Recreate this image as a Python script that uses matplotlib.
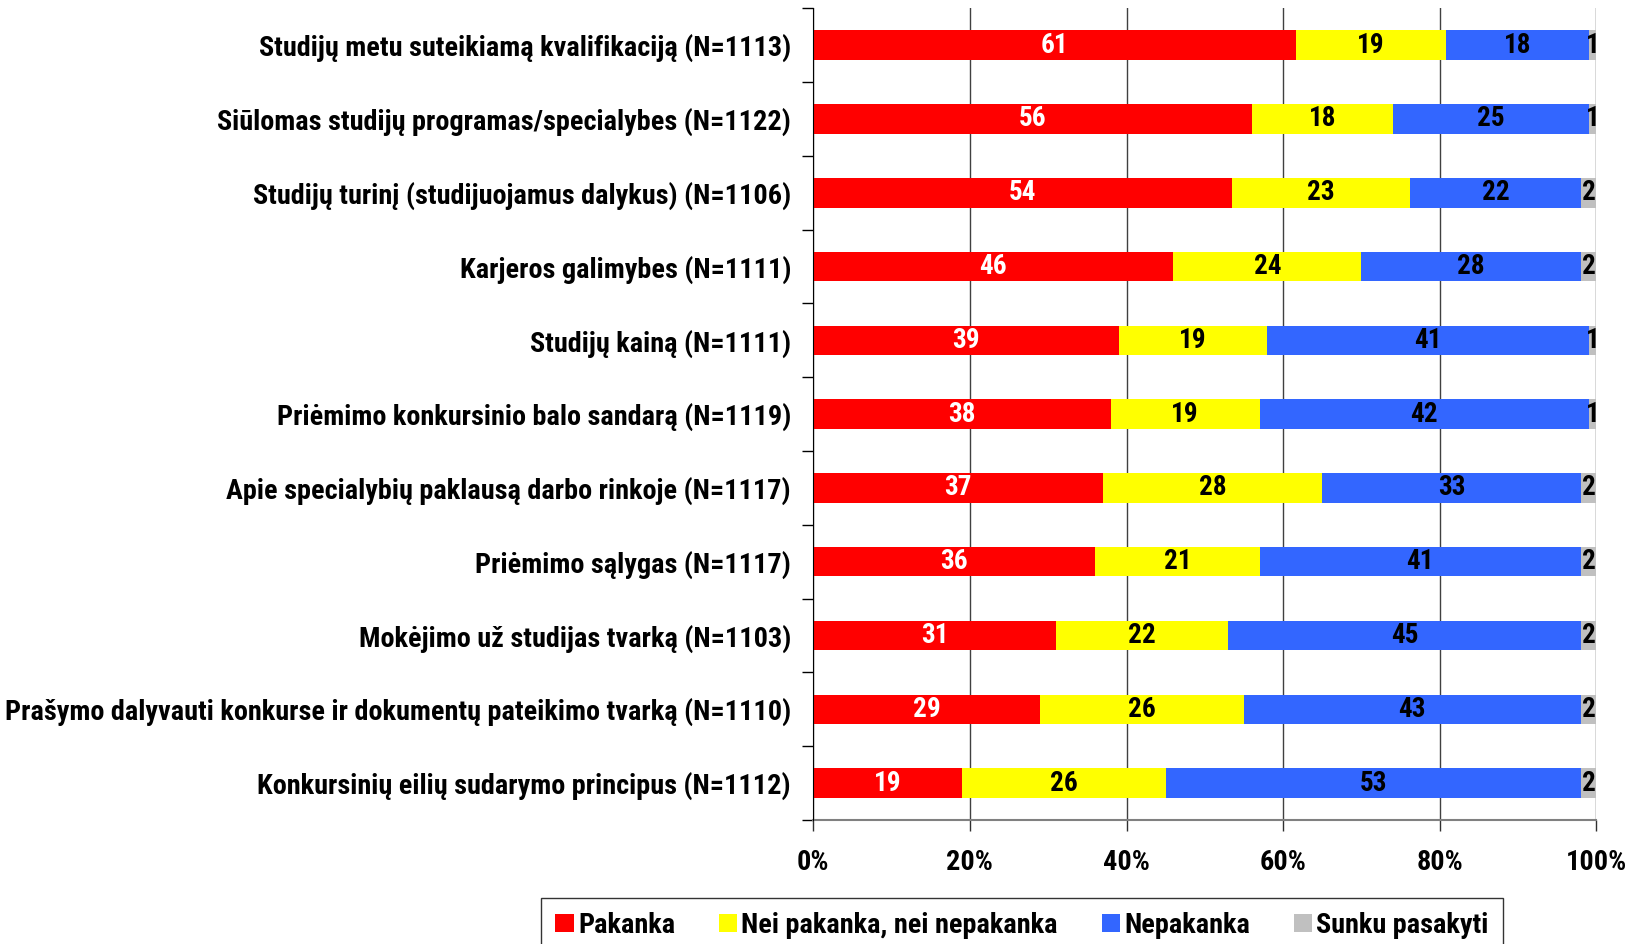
import numpy as np
import matplotlib
matplotlib.use("Agg")
import matplotlib.pyplot as plt

plt.rcParams['font.family'] = ['Roboto Condensed', 'DejaVu Sans']
plt.rcParams['font.weight'] = 'bold'

# Data (percent)
categories = [
    "Studijų metu suteikiamą kvalifikaciją (N=1113)",
    "Siūlomas studijų programas/specialybes (N=1122)",
    "Studijų turinį (studijuojamus dalykus) (N=1106)",
    "Karjeros galimybes (N=1111)",
    "Studijų kainą (N=1111)",
    "Priėmimo konkursinio balo sandarą (N=1119)",
    "Apie specialybių paklausą darbo rinkoje (N=1117)",
    "Priėmimo sąlygas (N=1117)",
    "Mokėjimo už studijas tvarką (N=1103)",
    "Prašymo dalyvauti konkurse ir dokumentų pateikimo tvarką (N=1110)",
    "Konkursinių eilių sudarymo principus (N=1112)",
]
pakanka = [61, 56, 54, 46, 39, 38, 37, 36, 31, 29, 19]
nei = [19, 18, 23, 24, 19, 19, 28, 21, 22, 26, 26]
nepakanka = [18, 25, 22, 28, 41, 42, 33, 41, 45, 43, 53]
sunku = [1, 1, 2, 2, 1, 1, 2, 2, 2, 2, 2]

series = ["Pakanka", "Nei pakanka, nei nepakanka", "Nepakanka", "Sunku pasakyti"]
colors = ["#FF0000", "#FFFF00", "#3366FF", "#C0C0C0"]
text_colors = ["white", "black", "black", "black"]
ticks = [0, 0.2, 0.4, 0.6, 0.8, 1.0]
tick_labels = ["0%", "20%", "40%", "60%", "80%", "100%"]

# 100% stacked: each row normalised to its own total
data = np.array([pakanka, nei, nepakanka, sunku], dtype=float)
share = data / data.sum(axis=0)

fig = plt.figure(figsize=(16.33, 9.44), dpi=100)
ax = fig.add_axes([0.498, 0.1314, 0.4796, 0.8598])

y = np.arange(len(categories))
left = np.zeros(len(categories))
for i in range(4):
    ax.barh(y, share[i], left=left, height=0.4, color=colors[i],
            label=series[i], zorder=3)
    for j in range(len(categories)):
        ax.text(left[j] + share[i][j] / 2, y[j], str(int(data[i][j])),
                ha='center', va='center', fontsize=19.5, fontweight='bold',
                color=text_colors[i], zorder=4)
    left += share[i]

ax.set_xlim(0, 1)
ax.set_ylim(len(categories) - 0.5, -0.5)

ax.set_yticks(y)
ax.set_yticklabels(categories, fontsize=20.3)
ax.set_yticks(np.arange(len(categories) + 1) - 0.5, minor=True)
ax.tick_params(axis='y', which='major', length=0, pad=16)
ax.tick_params(axis='y', which='minor', length=8, width=1, color='black')

ax.set_xticks(ticks)
ax.set_xticklabels(tick_labels, fontsize=20.3)
ax.tick_params(axis='x', length=8, width=1, color='#303030', pad=13)

ax.grid(axis='x', color='#404040', linewidth=1, zorder=1)
ax.spines['top'].set_visible(False)
ax.spines['right'].set_visible(False)
ax.spines['left'].set_color('black')
ax.spines['left'].set_zorder(5)
ax.spines['bottom'].set_color('#808080')
ax.spines['bottom'].set_linewidth(1.5)

leg = fig.legend(loc='upper left', bbox_to_anchor=(0.3315, 0.049), ncol=4,
                 fontsize=20.3, frameon=True, fancybox=False, edgecolor='black',
                 handlelength=0.65, handleheight=0.65, handletextpad=0.15,
                 columnspacing=1.55, borderpad=0.5, borderaxespad=0)
leg.get_frame().set_linewidth(1)

fig.savefig("out.png", dpi=100)
